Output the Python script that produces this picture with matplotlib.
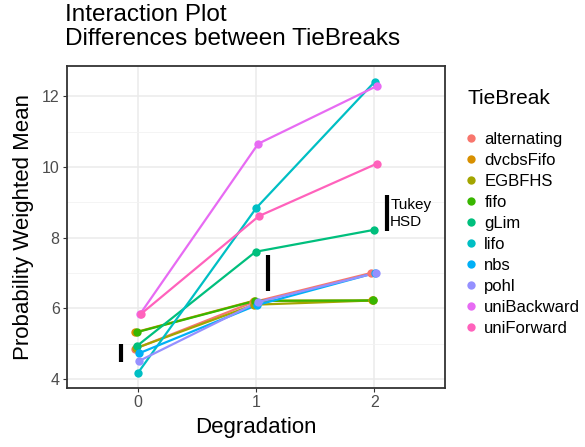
import numpy as np
import matplotlib.pyplot as plt
from matplotlib.ticker import MultipleLocator
from matplotlib.lines import Line2D

plt.rcParams['font.family'] = ['Liberation Sans', 'DejaVu Sans']

# Data
degradation = [0, 1, 2]
tiebreaks = ['alternating', 'dvcbsFifo', 'EGBFHS', 'fifo', 'gLim',
             'lifo', 'nbs', 'pohl', 'uniBackward', 'uniForward']
means = {
    'alternating': [4.85, 6.17, 7.00],
    'dvcbsFifo':   [5.32, 6.21, 6.22],
    'EGBFHS':      [4.87, 6.10, 6.22],
    'fifo':        [5.32, 6.21, 6.22],
    'gLim':        [4.94, 7.60, 8.22],
    'lifo':        [4.17, 8.84, 12.41],
    'nbs':         [4.72, 6.09, 7.00],
    'pohl':        [4.51, 6.17, 7.00],
    'uniBackward': [5.83, 10.66, 12.29],
    'uniForward':  [5.83, 8.61, 10.10],
}
colors = ['#F8766D', '#D89000', '#A3A500', '#39B600', '#00BF7D',
          '#00BFC4', '#00B0F6', '#9590FF', '#E76BF3', '#FF62BC']

# Tukey HSD bars: (x, low, high)
hsd_x = [-0.145, 1.10, 2.11]
hsd_lo = [4.48, 6.49, 8.18]
hsd_hi = [4.99, 7.51, 9.20]

fig = plt.figure(figsize=(5.85, 4.47), dpi=100)
ax = fig.add_axes([0.114, 0.1327, 0.647, 0.7203])

dodge = np.linspace(-0.025, 0.025, len(tiebreaks))
for i, tb in enumerate(tiebreaks):
    xs = np.array(degradation) + dodge[i]
    ax.plot(xs, means[tb], color=colors[i], lw=1.6, zorder=3)
    ax.plot(xs, means[tb], 'o', color=colors[i], ms=6, mec='none', zorder=4)

ax.vlines(hsd_x, hsd_lo, hsd_hi, color='black', lw=3, zorder=5)
ax.text(2.135, (hsd_lo[2] + hsd_hi[2]) / 2, 'Tukey\nHSD', fontsize=11,
        va='center', ha='left', linespacing=1.25, zorder=5)

ax.set_xlim(-0.6, 2.6)
ax.set_ylim(3.75, 12.87)
ax.set_xticks([0, 1, 2])
ax.yaxis.set_major_locator(MultipleLocator(2))
ax.yaxis.set_minor_locator(MultipleLocator(1))
ax.grid(which='major', color='#EBEBEB', lw=1.1, zorder=0)
ax.grid(which='minor', axis='y', color='#F2F2F2', lw=0.6, zorder=0)
ax.set_axisbelow(True)
ax.tick_params(which='minor', length=0)
ax.tick_params(which='major', length=3, width=0.8, color='#333333',
               labelsize=11.5, labelcolor='#4D4D4D', pad=2)
for s in ax.spines.values():
    s.set_color('#333333')
    s.set_linewidth(1.3)

ax.set_xlabel('Degradation', fontsize=16, labelpad=5)
ax.set_ylabel('Probability Weighted Mean', fontsize=16, labelpad=6)
fig.text(0.111, 0.992, 'Interaction Plot\nDifferences between TieBreaks',
         fontsize=17.5, va='top', ha='left', linespacing=1.12)

# legend: title placed separately to match the gap under it
fig.text(468 / 585, 1 - 99 / 447, 'TieBreak', fontsize=15,
         va='center', ha='left')
handles = [Line2D([], [], marker='o', color=c, lw=0, ms=6, mec='none')
           for c in colors]
fig.legend(handles, tiebreaks, loc='upper left',
           bbox_to_anchor=(466 / 585, 1 - 132 / 447), frameon=False,
           fontsize=12, handlelength=0.6, handletextpad=0.5,
           labelspacing=0.36, borderaxespad=0, borderpad=0)

fig.savefig('out.png', dpi=100)
